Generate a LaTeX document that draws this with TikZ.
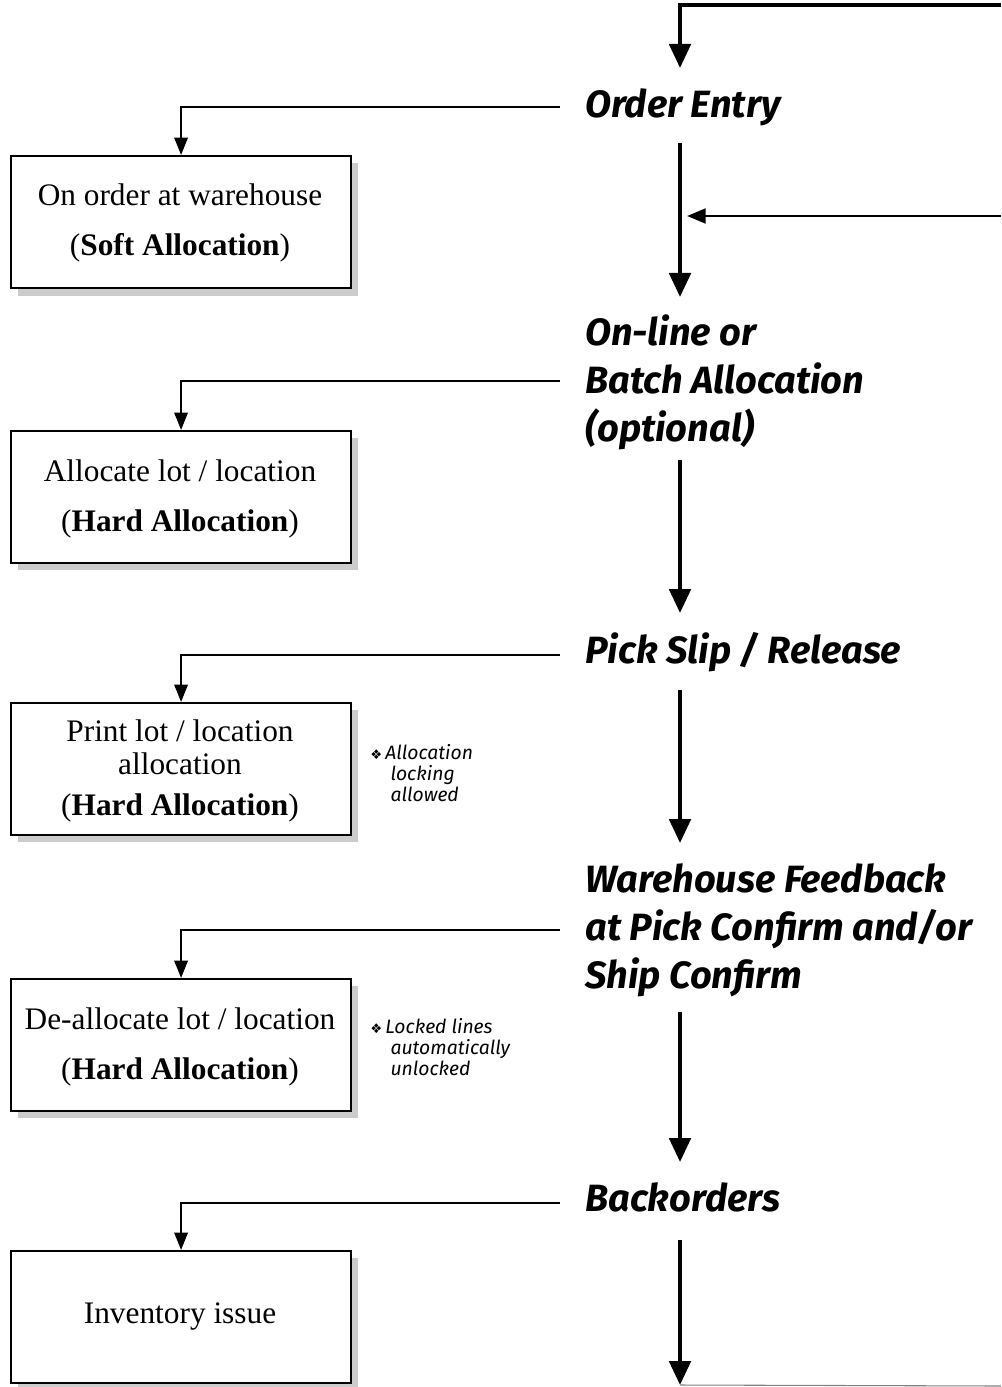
\documentclass[tikz,border=0pt]{standalone}
\usepackage{fontspec}
\setmainfont{Liberation Serif}
\newfontfamily\titlefont{Fira Sans}
\newfontfamily\notefont{Fira Sans}
\newfontfamily\symfont{DejaVu Sans}
\usetikzlibrary{arrows.meta}
\begin{document}
\begin{tikzpicture}[x=0.75pt,y=-0.75pt,
  mainline/.style={line width=3pt,-{Triangle[length=18pt,width=16pt]}},
  branchline/.style={line width=1.6pt,-{Triangle[length=13pt,width=10pt]}},
  title/.style={anchor=base west,inner sep=0pt,font=\titlefont\bfseries\itshape\fontsize{28.5}{36}\selectfont,align=left},
  boxtext/.style={anchor=base,inner sep=0pt,font=\fontsize{23.5}{26}\selectfont},
  note/.style={anchor=base west,inner sep=0pt,font=\notefont\itshape\fontsize{14.5}{15.75}\selectfont,align=left},
  box/.style={fill=white,draw=black,line width=1.6pt}]
\useasboundingbox (0,0) rectangle (1001,1387);
% shadows
\foreach \t/\b in {155/288,430/562,702/834,978/1110,1250/1382}{
  \fill[black!20] (18,\t+8) rectangle (358,\b+8);
}
\node[box,minimum width=255pt,minimum height=99pt,anchor=north west] (b1) at (10,155) {};
\node[box,minimum width=255pt,minimum height=99pt,anchor=north west] (b2) at (10,430) {};
\node[box,minimum width=255pt,minimum height=99pt,anchor=north west] (b3) at (10,702) {};
\node[box,minimum width=255pt,minimum height=99pt,anchor=north west] (b4) at (10,978) {};
\node[box,minimum width=255pt,minimum height=99pt,anchor=north west] (b5) at (10,1250) {};
% box texts
\node[boxtext] (t1a) at (180,206) {On order at warehouse};
\node[boxtext] (t1b) at (180,256) {(\textbf{Soft Allocation})};
\node[boxtext] (t2a) at (180,481) {Allocate lot / location};
\node[boxtext] (t2b) at (180,531) {(\textbf{Hard Allocation})};
\node[boxtext] (t3a) at (180,741) {Print lot / location};
\node[boxtext] (t3b) at (180,774) {allocation};
\node[boxtext] (t3c) at (180,815) {(\textbf{Hard Allocation})};
\node[boxtext] (t4a) at (180,1029) {De-allocate lot / location};
\node[boxtext] (t4b) at (180,1079) {(\textbf{Hard Allocation})};
\node[boxtext] (t5a) at (180,1323) {Inventory issue};
% titles (baseline of last line)
\node[title] (s1) at (585,118) {Order Entry};
\node[title] (s2) at (585,441) {On-line or\\Batch Allocation\\(optional)};
\node[title] (s3) at (585,663) {Pick Slip / Release};
\node[title] (s4) at (585,988) {Warehouse Feedback\\at Pick Confirm and/or\\Ship Confirm};
\node[title] (s5) at (585,1211) {Backorders};
% notes (baseline of last line)
\node[note] (n1) at (370,801) {{\symfont\fontsize{10}{10}\selectfont ❖}\,Allocation\\\hspace{1.05em}locking\\\hspace{1.05em}allowed};
\node[note] (n2) at (370,1075) {{\symfont\fontsize{10}{10}\selectfont ❖}\,Locked lines\\\hspace{1.05em}automatically\\\hspace{1.05em}unlocked};
% coordinates
\coordinate (topR) at (1001,5);
\coordinate (topL) at (680,5);
\coordinate (a1) at (680,68);
\coordinate (m1s) at (680,143);
\coordinate (m1e) at (680,297);
\coordinate (sideR) at (1001,216);
\coordinate (sideL) at (687,216);
\coordinate (m2s) at (680,460);
\coordinate (m2e) at (680,613);
\coordinate (m3s) at (680,690);
\coordinate (m3e) at (680,843);
\coordinate (m4s) at (680,1012);
\coordinate (m4e) at (680,1162);
\coordinate (m5s) at (680,1240);
\coordinate (m5e) at (680,1385);
% main connectors
\draw[mainline] (topR) -- (topL) -- (a1);
\draw[mainline] (m1s) -- (m1e);
\draw[line width=2.2pt,-{Triangle[length=14pt,width=11pt]}] (sideR) -- (sideL);
\draw[mainline] (m2s) -- (m2e);
\draw[mainline] (m3s) -- (m3e);
\draw[mainline] (m4s) -- (m4e);
\draw[mainline] (m5s) -- (m5e);
\draw[black!50,line width=0.8pt] (m5e) -- (1001,1386);
% branches
\draw[branchline] (560,107) -| (b1.north);
\draw[branchline] (560,381) -| (b2.north);
\draw[branchline] (560,655) -| (b3.north);
\draw[branchline] (560,930) -| (b4.north);
\draw[branchline] (560,1203) -| (b5.north);
\end{tikzpicture}
\end{document}
